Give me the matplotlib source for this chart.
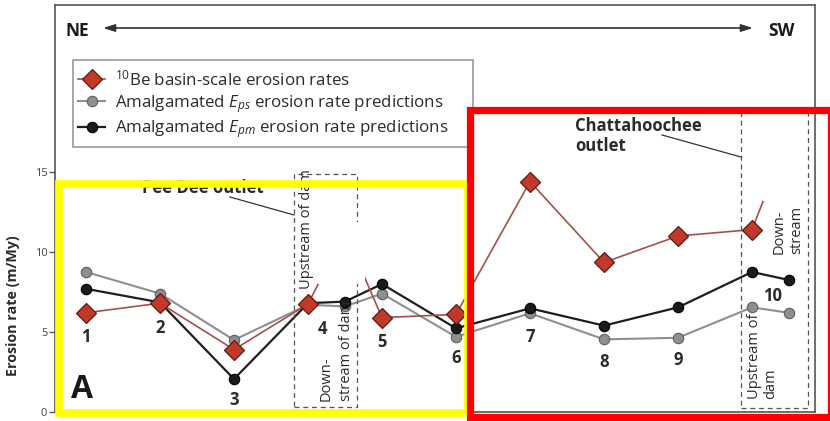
import matplotlib
matplotlib.use('Agg')
import matplotlib.pyplot as plt
from matplotlib.patches import Rectangle
from matplotlib.lines import Line2D

# ---------------- data ----------------
site_labels = ['1', '2', '3', '4', '5', '6', '7', '8', '9', '10']
sample_x = [0, 1, 2, 3, 3.5, 4, 5, 6, 7, 8, 9, 9.5]
be10_rates = [6.2, 6.8, 3.9, 6.75, 11.25, 5.9, 6.1, 14.4, 9.35, 11.0, 11.4, 17.3]
eps_rates = [8.75, 7.4, 4.5, 6.7, 6.6, 7.4, 4.7, 6.17, 4.54, 4.64, 6.54, 6.2]
epm_rates = [7.7, 6.85, 2.06, 6.8, 6.9, 8.0, 5.23, 6.48, 5.4, 6.54, 8.75, 8.25]
y_ticks = [0, 5, 10, 15]
legend_labels = [r'$^{10}$Be basin-scale erosion rates',
                 r'Amalgamated $E_{ps}$ erosion rate predictions',
                 r'Amalgamated $E_{pm}$ erosion rate predictions']

# ---------------- layout ----------------
label_x = [0, 1, 2, 3.2, 4, 5, 6, 7, 8, 9.28]
label_y = [4.7, 5.25, 0.75, 5.2, 4.4, 3.4, 4.7, 3.1, 3.25, 7.25]

plt.rcParams['font.family'] = ['Open Sans', 'DejaVu Sans']
plt.rcParams['mathtext.fontset'] = 'custom'
plt.rcParams['mathtext.rm'] = 'Open Sans'
plt.rcParams['mathtext.it'] = 'Open Sans:italic'
plt.rcParams['mathtext.bf'] = 'Open Sans:bold'

W, H = 830, 421
fig = plt.figure(figsize=(W / 100, H / 100), dpi=100)
fig.patch.set_facecolor('white')


def fx(px):
    return px / W


def fy(py):
    return 1 - py / H


TXT = '#2b2b2b'
ax = fig.add_axes([fx(55), fy(412), (815 - 55) / W, (412 - 5) / H])
ax.set_xlim(-31 / 74, (815 - 86) / 74)
ax.set_ylim(0, 407 / 16)
for s in ax.spines.values():
    s.set_color('#555555')
    s.set_linewidth(1.2)
ax.set_xticks([])
ax.set_yticks(y_ticks)
ax.tick_params(axis='y', direction='out', length=4, width=1, color='#555555',
               labelsize=8, labelcolor='#444444', pad=1.5)
ax.set_ylabel('Erosion rate (m/My)', fontsize=10.3, fontweight='bold', color=TXT)
ax.yaxis.set_label_coords(-(55 - 20) / (815 - 55), (412 - 306) / 407)

l_eps, = ax.plot(sample_x, eps_rates, '-o', color='#8f8f8f', lw=1.5, ms=7.5,
                 mfc='#8f8f8f', mec='#5f5f5f', mew=0.8, zorder=3)
l_epm, = ax.plot(sample_x, epm_rates, '-o', color='#1e1e1e', lw=1.6, ms=7.5,
                 mfc='#1a1a1a', mec='#000000', mew=0.8, zorder=4)
l_be, = ax.plot(sample_x, be10_rates, '-D', color='#a5504a', lw=1.2, ms=10,
                mfc='#c0392b', mec='#5a1a12', mew=0.9, zorder=5)

for lab, lx, ly in zip(site_labels, label_x, label_y):
    ax.text(lx, ly, lab, ha='center', va='center', fontsize=12,
            fontweight='bold', color=TXT, zorder=6)

ax.text((82 - 55) / (815 - 55), (412 - 389) / 407, 'A', transform=ax.transAxes,
        ha='center', va='center', fontsize=23, fontweight='bold', color='#1a1a1a')

# legend
leg = ax.legend([l_be, l_eps, l_epm], legend_labels, loc='upper left',
                bbox_to_anchor=(fx(73), fy(64)), bbox_transform=fig.transFigure,
                frameon=False, fontsize=12.2, handlelength=1.6, handletextpad=0.6,
                labelspacing=0.22, borderpad=0.3, borderaxespad=0)
for t in leg.get_texts():
    t.set_color(TXT)
fig.add_artist(Rectangle((fx(73), fy(147)), 400 / W, 87 / H, transform=fig.transFigure,
                         fill=False, ec='#999999', lw=1.2, zorder=2))

# NE / SW arrow
fig.text(fx(65), fy(31), 'NE', ha='left', va='center', fontsize=12.5,
         fontweight='bold', color='#1a1a1a')
fig.text(fx(768), fy(31), 'SW', ha='left', va='center', fontsize=12.5,
         fontweight='bold', color='#1a1a1a')
ax.annotate('', xy=(fx(753), fy(28)), xytext=(fx(103), fy(28)),
            xycoords='figure fraction', textcoords='figure fraction',
            arrowprops=dict(arrowstyle='<|-|>,head_length=0.7,head_width=0.22',
                            color='#333333', lw=1.2, shrinkA=0, shrinkB=0))

# dashed boxes
fig.add_artist(Rectangle((fx(294), fy(407)), (357 - 294) / W, (407 - 174) / H,
                         transform=fig.transFigure, fill=False, ec='#555555',
                         lw=0.9, ls=(0, (4, 3)), zorder=1))
fig.add_artist(Rectangle((fx(741), fy(408)), (808 - 741) / W, (408 - 108) / H,
                         transform=fig.transFigure, fill=False, ec='#555555',
                         lw=0.9, ls=(0, (4, 3)), zorder=1))
# white label backgrounds
fig.add_artist(Rectangle((fx(318), fy(284)), (365 - 318) / W, (284 - 222) / H,
                         transform=fig.transFigure, fc='white', ec='none', zorder=1.5))
fig.add_artist(Rectangle((fx(763), fy(201)), (805 - 763) / W, (201 - 118) / H,
                         transform=fig.transFigure, fc='white', ec='none', zorder=1.5))

# rotated labels
fig.text(fx(306), fy(289), 'Upstream of dam', rotation=90, ha='center', va='bottom',
         fontsize=10.5, color=TXT, zorder=3)
fig.text(fx(326), fy(401), 'Down-', rotation=90, ha='center', va='bottom',
         fontsize=10.5, color=TXT, zorder=3)
fig.text(fx(346), fy(401), 'stream of dam', rotation=90, ha='center', va='bottom',
         fontsize=10.5, color=TXT, zorder=3)
fig.text(fx(754), fy(399), 'Upstream of', rotation=90, ha='center', va='bottom',
         fontsize=10.5, color=TXT, zorder=3)
fig.text(fx(771), fy(399), 'dam', rotation=90, ha='center', va='bottom',
         fontsize=10.5, color=TXT, zorder=3)
fig.text(fx(779), fy(254), 'Down-', rotation=90, ha='center', va='bottom',
         fontsize=10.5, color=TXT, zorder=3)
fig.text(fx(797), fy(254), 'stream', rotation=90, ha='center', va='bottom',
         fontsize=10.5, color=TXT, zorder=3)

# outlet annotations
fig.text(fx(203), fy(188), 'Pee Dee outlet', ha='center', va='center', fontsize=12,
         fontweight='bold', color=TXT, zorder=3)
fig.add_artist(Line2D([fx(230), fx(294)], [fy(197), fy(215)], transform=fig.transFigure,
                      color='#333333', lw=0.9, zorder=3))
fig.text(fx(575), fy(136), 'Chattahoochee\noutlet', ha='left', va='center', fontsize=12,
         fontweight='bold', color=TXT, linespacing=1.2, zorder=3)
fig.add_artist(Line2D([fx(662), fx(741)], [fy(135), fy(157)], transform=fig.transFigure,
                      color='#333333', lw=0.9, zorder=3))

# highlight boxes
fig.add_artist(Rectangle((fx(59), fy(413)), (468 - 59) / W, (413 - 184) / H,
                         transform=fig.transFigure, fill=False, ec='#ffff00',
                         lw=5.5, zorder=8))
fig.add_artist(Rectangle((fx(470), fy(417)), (831 - 470) / W, (417 - 110) / H,
                         transform=fig.transFigure, fill=False, ec='#ff0000',
                         lw=5.2, zorder=9))

fig.savefig('out.png', dpi=100, facecolor='white')
